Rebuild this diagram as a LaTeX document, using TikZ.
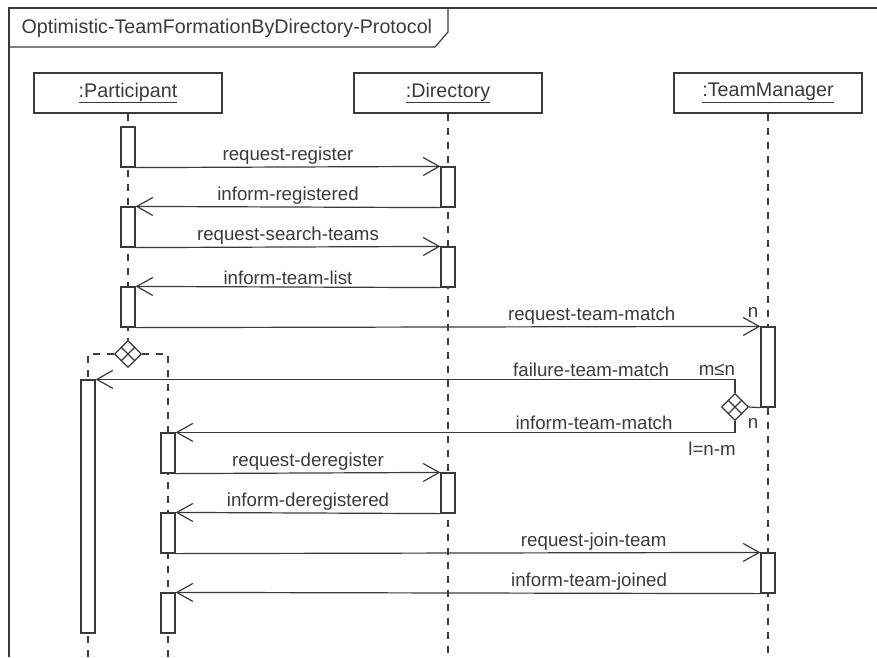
\documentclass[tikz,border=0pt]{standalone}
\usepackage{fontspec}
\setmainfont{Liberation Sans}
\usetikzlibrary{arrows.meta,shapes.geometric,calc}

\definecolor{ink}{HTML}{3A3A3A}

\tikzstyle{head}  = [draw=ink,fill=white,minimum width=188pt,minimum height=40pt,
                     inner sep=0pt,text=ink,font=\fontsize{19.7}{23}\selectfont]
\tikzstyle{bar}   = [draw=ink,fill=white,minimum width=14pt,inner sep=0pt]
\tikzstyle{life}  = [draw=ink,dash pattern=on 7pt off 7pt]
\tikzstyle{msg}   = [draw=ink,-{Straight Barb[length=16pt,width=18pt]}]
\tikzstyle{lbl}   = [text=ink,inner sep=2pt]
\tikzstyle{choice}= [draw=ink,fill=white,diamond,minimum width=27pt,minimum height=27pt,
                     inner sep=0pt]

\begin{document}
\begin{tikzpicture}[x=1pt,y=-1pt,line width=1.2pt,
                    font=\fontsize{18.7}{22}\selectfont]
  \useasboundingbox (0,0) rectangle (877,657);

  % frame
  \draw[ink] (877,8) -- (9,8) -- (9,657);
  \draw[ink] (9,47) -- (435,47) -- (448,32) -- (448,8);
  \node[lbl,anchor=west,font=\fontsize{19.7}{23}\selectfont] at (19,28) (title)
       {Optimistic-TeamFormationByDirectory-Protocol};

  % heads
  \node[head] at (128,93) (part) {\underline{:Participant}};
  \node[head] at (448,93) (dir)  {\underline{:Directory}};
  \node[head] at (768,93) (tm)   {\underline{:TeamManager}};

  \coordinate (dirend) at (448,657);
  \coordinate (tmend)  at (768,657);
  \coordinate (aend)   at (88,657);
  \coordinate (bend)   at (168,657);

  % lifelines
  \node[choice] at (128,354) (dp) {};
  \draw[life] (part.south) -- (dp.north);
  \draw[life] (dp.west) -| (aend);
  \draw[life] (dp.east) -| (bend);
  \draw[life] (dir.south) -- (dirend);
  \draw[life] (tm.south) -- (tmend);

  % activations
  \node[bar,minimum height=40pt]  at (128,147)   (p1) {};
  \node[bar,minimum height=40pt]  at (128,227)   (p2) {};
  \node[bar,minimum height=40pt]  at (128,307)   (p3) {};
  \node[bar,minimum height=40pt]  at (448,187)   (d1) {};
  \node[bar,minimum height=40pt]  at (448,267)   (d2) {};
  \node[bar,minimum height=40pt]  at (448,493)   (d3) {};
  \node[bar,minimum height=80pt]  at (768,367)   (t1) {};
  \node[bar,minimum height=40pt]  at (768,573)   (t2) {};
  \node[bar,minimum height=253pt] at (88,506.5)  (a1) {};
  \node[bar,minimum height=40pt]  at (168,453)   (b1) {};
  \node[bar,minimum height=40pt]  at (168,533)   (b2) {};
  \node[bar,minimum height=40pt]  at (168,613)   (b3) {};

  \node[choice] at (735,407) (dt) {};
  \draw[ink] ($(dp.north)!0.5!(dp.east)$) -- ($(dp.south)!0.5!(dp.west)$)
             ($(dp.north)!0.5!(dp.west)$) -- ($(dp.south)!0.5!(dp.east)$);
  \draw[ink] ($(dt.north)!0.5!(dt.east)$) -- ($(dt.south)!0.5!(dt.west)$)
             ($(dt.north)!0.5!(dt.west)$) -- ($(dt.south)!0.5!(dt.east)$);

  % messages
  \draw[msg] (p1.south east) -- (d1.north west) node[lbl,midway,above] {request-register};
  \draw[msg] (d1.south west) -- (p2.north east) node[lbl,midway,above] {inform-registered};
  \draw[msg] (p2.south east) -- (d2.north west) node[lbl,midway,above] {request-search-teams};
  \draw[msg] (d2.south west) -- (p3.north east) node[lbl,midway,above] {inform-team-list};
  \draw[msg] (p3.south east) -- (t1.north west) node[lbl,pos=0.73,above] {request-team-match};
  \draw[msg] (dt.north) |- (a1.north east) node[lbl,pos=0.6125,above] {failure-team-match};
  \draw[msg] (dt.south) |- (b1.north east) node[lbl,pos=0.626,above] {inform-team-match};
  \draw[ink] (dt.east) -- (t1.south west);
  \draw[msg] (b1.south east) -- (d3.north west) node[lbl,midway,above] {request-deregister};
  \draw[msg] (d3.south west) -- (b2.north east) node[lbl,midway,above] {inform-deregistered};
  \draw[msg] (b2.south east) -- (t2.north west) node[lbl,pos=0.715,above] {request-join-team};
  \draw[msg] (t2.south west) -- (b3.north east) node[lbl,pos=0.293,above] {inform-team-joined};

  % multiplicities
  \node[lbl] at (753,312) (n1)  {n};
  \node[lbl] at (717,370) (mn)  {m≤n};
  \node[lbl] at (753,423) (n2)  {n};
  \node[lbl] at (712,449) (lnm) {l=n-m};
\end{tikzpicture}
\end{document}
